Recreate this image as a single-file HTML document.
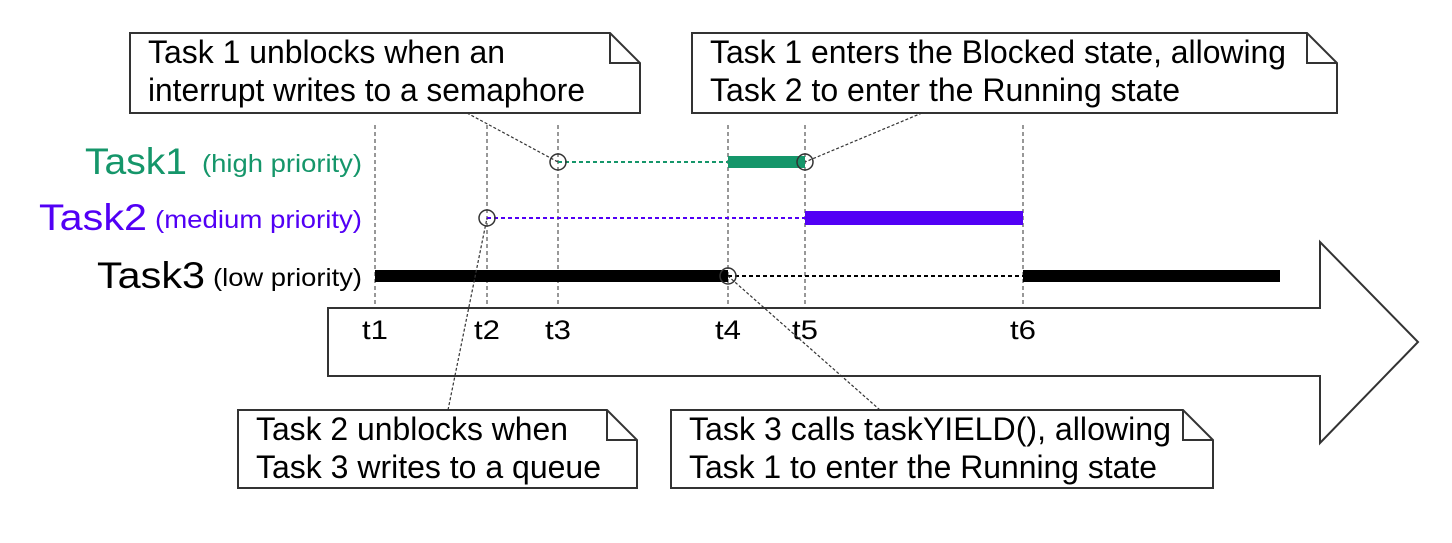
<!DOCTYPE html>
<html><head><meta charset="utf-8"><style>
html,body{margin:0;padding:0;background:#fff}
svg{display:block;font-family:"Liberation Sans",sans-serif}
</style></head><body>
<svg id="chart" width="1452" height="543" viewBox="0 0 1452 543">
<polygon points="328,308 1320,308 1320,242 1418,342 1320,443 1320,376 328,376" fill="#fff" stroke="#333" stroke-width="2"/>
<g id="grid"></g><g id="series"></g><g id="labels"></g><g id="callouts"></g>
</svg>
<script>
const tickNames = ["t1","t2","t3","t4","t5","t6"];
const tickTimes = [1,2,3,4,5,6];
const taskNames = ["Task1","Task2","Task3"];
const taskSubs = ["(high priority)","(medium priority)","(low priority)"];
const taskColors = ["#15966a","#5200f5","#000"];
// running segments [task, startTime, endTime] ; endTime 7 = end of chart
const runStarts = [[0,4,5],[1,5,6],[2,1,4],[2,6,7]];
// ready (dotted) segments
const readySegs = [[0,3,4],[1,2,5],[2,4,6]];
// event circles [task, time]
const events = [[0,3],[0,5],[1,2],[2,4]];

const tPix = [375,487,558,728,805,1023,1280];
function xS(t){const i=Math.floor(t)-1,f=t-Math.floor(t);return i>=6?tPix[6]:tPix[i]+f*(tPix[i+1]-tPix[i]);}
function yS(k){return [162,218,276][k];}
const NS="http://www.w3.org/2000/svg";
function mk(tag,attrs,parent){const e=document.createElementNS(NS,tag);for(const k in attrs)e.setAttribute(k,attrs[k]);document.getElementById(parent).appendChild(e);return e;}

tickNames.forEach((n,i)=>{
  const x=xS(tickTimes[i]);
  const l=mk('line',{x1:x,y1:125,x2:x,y2:306,stroke:'#777','stroke-width':1.5,'stroke-dasharray':'4,3'},'grid');
  
  
  const t=mk('text',{x:x,y:339,'text-anchor':'middle','font-size':27,fill:'#000',textLength:26,lengthAdjust:'spacingAndGlyphs'},'labels');
  t.textContent=n;
  
  
});
readySegs.forEach(s=>{
  const l=mk('line',{x1:xS(s[1]),y1:yS(s[0]),x2:xS(s[2]),y2:yS(s[0]),stroke:taskColors[s[0]],'stroke-width':2,'stroke-dasharray':'4,3'},'series');
  
  
});
runStarts.forEach(s=>{
  const h=s[0]===1?14:12;
  const r=mk('rect',{x:xS(s[1]),y:yS(s[0])-h/2,width:xS(s[2])-xS(s[1]),height:h,fill:taskColors[s[0]]},'series');
  
  
});
events.forEach(e=>{
  const c=mk('circle',{cx:xS(e[1]),cy:yS(e[0]),r:8,fill:'none',stroke:'#333','stroke-width':1.5},'series');
  
  
});
const subW=[160,207,149], nameW=[102,108,108], gap=[15,8,8];
taskNames.forEach((n,k)=>{
  const s=mk('text',{x:362-subW[k],y:yS(k)+10,fill:taskColors[k],'font-size':25,textLength:subW[k],lengthAdjust:'spacingAndGlyphs'},'labels');
  s.textContent=taskSubs[k];
  
  
  const t=mk('text',{x:362-subW[k]-gap[k]-nameW[k],y:yS(k)+12,fill:taskColors[k],'font-size':37,textLength:nameW[k],lengthAdjust:'spacingAndGlyphs'},'labels');
  t.textContent=n;
  
  
});
const callouts=[
 {x:130,y:33,w:510,h:80,l1:"Task 1 unblocks when an",l2:"interrupt writes to a semaphore",w1:357,w2:437,lx:467,ly:113,tx:558,ty:162,n:'callout-task1-unblocks'},
 {x:692,y:33,w:645,h:80,l1:"Task 1 enters the Blocked state, allowing",l2:"Task 2 to enter the Running state",w1:576,w2:470,lx:922,ly:113,tx:805,ty:162,n:'callout-task1-blocked'},
 {x:238,y:410,w:399,h:78,l1:"Task 2 unblocks when",l2:"Task 3 writes to a queue",w1:312,w2:345,lx:448,ly:410,tx:487,ty:218,n:'callout-task2-unblocks'},
 {x:671,y:410,w:542,h:78,l1:"Task 3 calls taskYIELD(), allowing",l2:"Task 1 to enter the Running state",w1:482,w2:468,lx:880,ly:410,tx:728,ty:276,n:'callout-task3-yield'}
];
callouts.forEach(c=>{
  const ln=mk('line',{x1:c.lx,y1:c.ly,x2:c.tx,y2:c.ty,stroke:'#333','stroke-width':1.2,'stroke-dasharray':'3,2'},'callouts');
  
  
  const f=30,X=c.x,Y=c.y,W=c.w,H=c.h;
  const p=mk('path',{d:`M${X},${Y}H${X+W-f}L${X+W},${Y+f}V${Y+H}H${X}Z M${X+W-f},${Y}V${Y+f}H${X+W}`,fill:'#fff',stroke:'#333','stroke-width':2},'callouts');
  
  
  const t1=mk('text',{x:X+18,y:Y+30,'font-size':32,textLength:c.w1,lengthAdjust:'spacingAndGlyphs'},'callouts');
  t1.textContent=c.l1;
  
  
  const t2=mk('text',{x:X+18,y:Y+68,'font-size':32,textLength:c.w2,lengthAdjust:'spacingAndGlyphs'},'callouts');
  t2.textContent=c.l2;
  
  
});
</script>
</body></html>
